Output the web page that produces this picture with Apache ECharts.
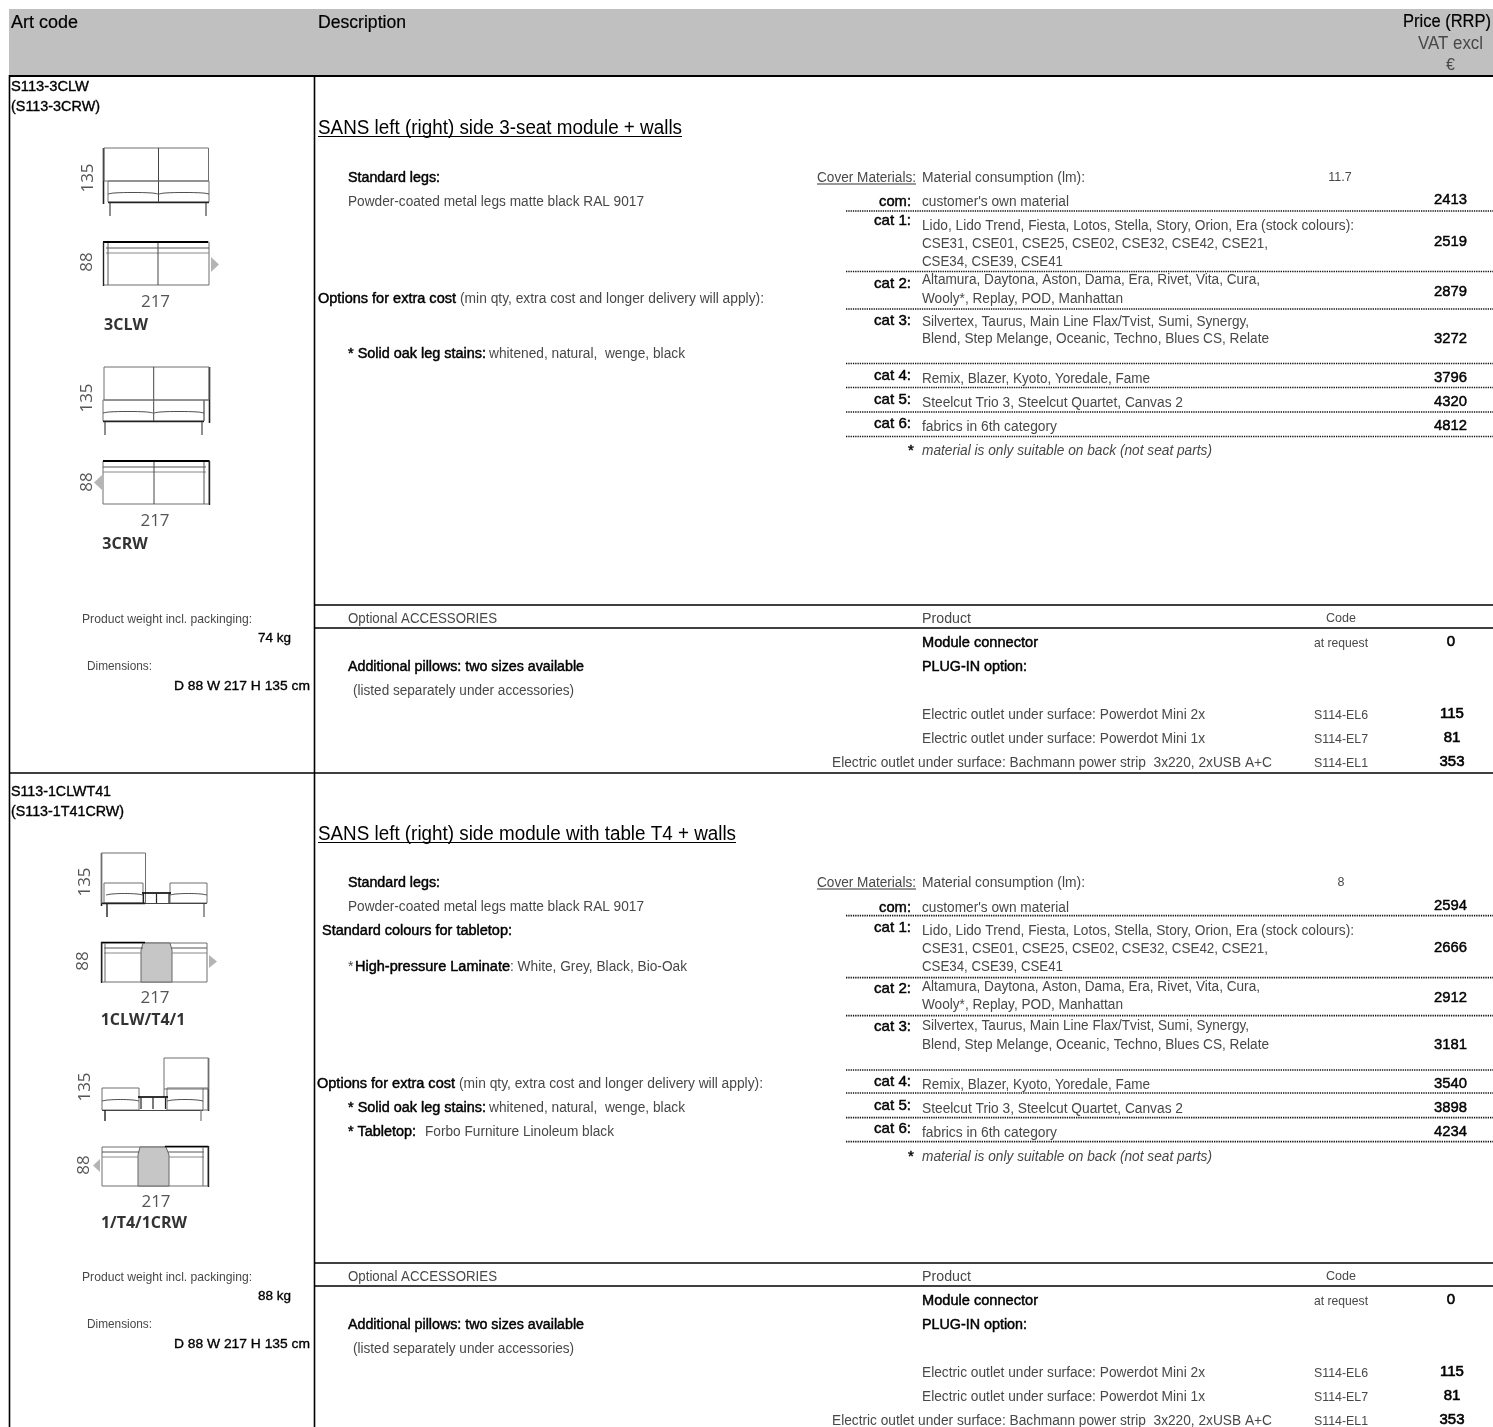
<!DOCTYPE html>
<html><head><meta charset="utf-8">
<style>html,body{margin:0;padding:0;background:#fff}#c{width:1493px;height:1427px}#c canvas{filter:blur(0.3px)}</style>
<script src="https://cdn.jsdelivr.net/npm/echarts@6/dist/echarts.min.js"></script>
</head><body><div id="c"></div>
<script>
// ---- data (text + values) ----
const headerLabels = ['Art code','Description','Price (RRP)','VAT excl','€'];
const artCodes = [['S113-3CLW','(S113-3CRW)'],['S113-1CLWT41','(S113-1T41CRW)']];
const titles = ['SANS left (right) side 3-seat module + walls','SANS left (right) side module with table T4 + walls'];
const consumption = ['11.7','8'];
const weights = ['74 kg','88 kg'];
const dimensions = 'D 88 W 217 H 135 cm';
const catLabels = ['com:','cat 1:','cat 2:','cat 3:','cat 4:','cat 5:','cat 6:'];
const catLines = [["customer's own material"],
 ['Lido, Lido Trend, Fiesta, Lotos, Stella, Story, Orion, Era (stock colours):','CSE31, CSE01, CSE25, CSE02, CSE32, CSE42, CSE21,','CSE34, CSE39, CSE41'],
 ['Altamura, Daytona, Aston, Dama, Era, Rivet, Vita, Cura,','Wooly*, Replay, POD, Manhattan'],
 ['Silvertex, Taurus, Main Line Flax/Tvist, Sumi, Synergy,','Blend, Step Melange, Oceanic, Techno, Blues CS, Relate'],
 ['Remix, Blazer, Kyoto, Yoredale, Fame'],['Steelcut Trio 3, Steelcut Quartet, Canvas 2'],['fabrics in 6th category']];
const prices1 = [2413,2519,2879,3272,3796,4320,4812];
const prices2 = [2594,2666,2912,3181,3540,3898,4234];
const accessoryCodes = ['S114-EL6','S114-EL7','S114-EL1'];
const accessoryNames = ['Electric outlet under surface: Powerdot Mini 2x','Electric outlet under surface: Powerdot Mini 1x','Electric outlet under surface: Bachmann power strip  3x220, 2xUSB A+C'];
const accessoryPrices = [115,81,353];
const connectorPrice = 0;
const sofaNames = ['3CLW','3CRW','1CLW/T4/1','1/T4/1CRW'];
const sofaDims = ['135','88','217'];

// ---- layout ----
const FONT = '"Liberation Sans", Arial, sans-serif', DIM = '"Open Sans", sans-serif';
const GREY = '#484848', BLK = '#000';
const items = [];
const mc = document.createElement('canvas').getContext('2d');
function T(text, x, y, o) {
  o = o || {};
  const s = o.s || 14, font = (o.i ? 'italic ' : '') + s + 'px ' + (o.f || FONT);
  let sx = 1;
  if (o.w) { mc.font = font; sx = o.w / mc.measureText(String(text)).width; }
  const yy = y + (o.f ? 0 : 1);
  items.push({k:'t', text:String(text), x, y:yy, a:o.a||'left', font, fill:o.c||(o.b?BLK:GREY), stroke:o.b?BLK:null, lw:o.b?(o.bw||0.45):0, sx, rot:o.rot||0, weight:o.fw});
}
function L(x1,y1,x2,y2,c,w,d){ items.push({k:'l',x1,y1,x2,y2,c:c||BLK,w:w||1,d}); }
function R(x,y,w,h,f,st,lw){ items.push({k:'r',x,y,w_:w,h,f,st,lw}); }
function P(pts,f,st,lw,smooth,closed){ items.push({k:'p',pts,f,st,lw,smooth,closed}); }

const GL = '#6e6e6e', DK = '#222';
function dimsLabels(x135,y135,x88,y88,x217,y217){
  T(sofaDims[0],x135,y135,{a:'center',s:17,f:DIM,c:'#555',rot:Math.PI/2});
  T(sofaDims[1],x88,y88,{a:'center',s:17,f:DIM,c:'#555',rot:Math.PI/2});
  T(sofaDims[2],x217,y217,{a:'center',s:17,f:DIM,c:'#555'});
}
function cushion(x1,x2,y){ P([[x1,y+1],[x1+6,y],[(x1+x2)/2,y-0.5],[x2-6,y],[x2,y+1]],null,DK,0.8,0.4); }

function sofa3CLW(){
  L(103.5,148,103.5,204,DK,1.6);
  R(104,148,104.5,33,null,GL,1);
  L(158.5,148,158.5,202,'#444',1);
  R(108,181,101,21,null,GL,1);
  cushion(108,158,193); cushion(159,209,193);
  L(108,202.5,209,202.5,DK,1.3);
  L(110,203,110,216,'#444',1.2); L(206,203,206,216,'#444',1.2);
  R(103.5,242,105.5,43,null,GL,1);
  L(103,242,208,242,BLK,1.8); L(103.5,242,103.5,286,DK,1.4);
  L(106,248,209,248,'#555',1); L(106,253,209,253,'#888',1);
  L(108,243,108,285,'#555',1); L(158,243,158,285,'#444',1);
  P([[211,257],[219,264.5],[211,272]],'#b4b4b4');
  dimsLabels(88,178,87,262,155.5,302);
  T(sofaNames[0],126,325,{a:'center',s:16,f:DIM,c:'#333',fw:700});
}
function sofa3CRW(){
  L(209.5,367,209.5,423,DK,1.6);
  R(104,367,105,33,null,GL,1);
  L(153.7,367,153.7,421,'#444',1);
  R(103,400,101,21,null,GL,1); L(204,400,204,421,GL,1); L(204,400,209,400,GL,1);
  cushion(103,153,412); cushion(154,204,412);
  L(103,421.5,204,421.5,DK,1.3);
  L(105,422,105,435,'#444',1.2); L(202,422,202,435,'#444',1.2);
  R(103,461,106,43,null,GL,1);
  L(103,461,209.5,461,BLK,1.8); L(209.5,461,209.5,505,DK,1.4);
  L(103,467,206,467,'#555',1); L(103,472,206,472,'#888',1);
  L(204,462,204,504,'#555',1); L(154,462,154,504,'#444',1);
  P([[102,475],[94,482.5],[102,490]],'#b4b4b4');
  dimsLabels(87,398,87,482,155,521);
  T(sofaNames[1],125,544,{a:'center',s:16,f:DIM,c:'#333',fw:700});
}
function sofa1CLW(){
  L(101.5,853,101.5,906,DK,1.5);
  R(101.5,853,44,50,null,GL,1);
  R(104,883,39,20,null,GL,1); R(170,883,37,20,null,GL,1);
  cushion(106,143,894); cushion(170,207,894);
  L(102,903.5,145,903.5,DK,1.5); L(145,903.5,207,903.5,'#444',1);
  L(142,893,171,893,BLK,1.6);
  L(143.5,893,143.5,903,DK,1.2); L(156.5,893,156.5,903,DK,1.2); L(169,893,169,903,DK,1.2);
  L(107,904,107,917,DK,1.4); L(204,904,204,917,'#555',1.2);
  R(102,943,105,39,null,GL,1);
  P([[143,943],[170,943],[172,950],[172,982],[141,982],[141,950]],'#c6c6c6','#666',1,0,true);
  L(101,942.5,145,942.5,BLK,1.6); L(101.5,942,101.5,983,DK,1.4);
  L(104,948,143,948,'#555',1); L(104,953,141,953,'#888',1); L(171,948,207,948,'#555',1); L(172,953,207,953,'#888',1);
  L(105,943,105,982,'#666',1);
  P([[209,955],[217,961.5],[209,968]],'#b4b4b4');
  dimsLabels(85,882,83,961,155,998);
  T(sofaNames[2],143,1020,{a:'center',s:16,f:DIM,c:'#333',fw:700});
}
function sofa1CRW(){
  L(208.5,1058,208.5,1111,DK,1.5);
  R(164,1058,44.5,31,null,GL,1); L(164,1089,164,1097,GL,1);
  R(102,1088,37,22,null,GL,1); R(167,1088,41,22,null,GL,1); L(203,1088,203,1110,GL,1);
  cushion(102,139,1100); cushion(167,203,1100);
  L(102,1110.5,203,1110.5,'#444',1.1);
  L(138,1097,168,1097,BLK,1.6);
  L(141,1097,141,1109,DK,1.2); L(153,1097,153,1109,DK,1.2); L(165.5,1097,165.5,1109,DK,1.2);
  L(105,1110,105,1121,DK,1.4); L(201,1110,201,1121,'#777',1.2);
  R(102,1147,106,39,null,GL,1);
  P([[140,1147],[166,1147],[169,1155],[169,1186],[138,1186],[138,1155]],'#c6c6c6','#666',1,0,true);
  L(165,1146.5,208.5,1146.5,BLK,1.6); L(208.5,1146,208.5,1187,DK,1.4);
  L(102,1152,139,1152,'#555',1); L(102,1157,138,1157,'#888',1); L(168,1152,204,1152,'#555',1); L(169,1157,204,1157,'#888',1);
  L(203,1147,203,1186,'#666',1);
  P([[100,1159],[93,1165.5],[100,1172]],'#b4b4b4');
  dimsLabels(85,1087,84,1165,156,1202);
  T(sofaNames[3],144,1223,{a:'center',s:16,f:DIM,c:'#333',fw:700});
}

// frame
R(9,9,1484,66,'#c0c0c0');
L(9,76,1493,76,BLK,2);
L(9.5,75,9.5,1427,BLK,1.6);
L(314.5,75,314.5,1427,BLK,1.6);
L(9,773,1493,773,BLK,1.6);
// header
T(headerLabels[0],11,22,{s:18,c:BLK,bw:0.2,b:1,w:67});
T(headerLabels[1],318,22,{s:18,c:BLK,bw:0.2,b:1,w:88});
T(headerLabels[2],1491,21,{s:18,c:BLK,bw:0.2,b:1,a:'right',w:88});
T(headerLabels[3],1450.5,43,{s:18,a:'center',w:65});
T(headerLabels[4],1450.5,65,{s:16,a:'center'});

const lineW = [[147],[432,346,141],[338,201],[327,347],[228],[261],[135]];
const labelY = [[201,220,283,320,375,399,423],[907,927,988,1026,1081,1105,1128]];
const lineY = [[[201],[225,243,261],[279,298],[321,338],[378],[402],[426]],
               [[907],[930,948,966],[986,1004],[1025,1044],[1084],[1108],[1132]]];
const priceY = [[199,241,291,338,377,401,425],[905,947,997,1044,1083,1107,1131]];
const dotY = [[211,271.5,309,363.5,387.5,412,436.5],[915.7,977.7,1015.7,1070,1093,1117.7,1141.7]];

function section(i, dy, prices){
  const Y = v => v + dy;
  const top = i ? 882 : 177, second = i ? 906 : 201;
  T(artCodes[i][0],11,i?791:86,{b:1,bw:0.35,w:i?100:78});
  T(artCodes[i][1],11,i?811:106,{b:1,bw:0.35,w:i?113:89});
  T(titles[i],318,Y(127),{s:20,c:BLK,w:i?418:364});
  L(318,Y(136.5),i?736:682,Y(136.5),BLK,1);
  T('Standard legs:',348,top,{b:1,w:92});
  T('Powder-coated metal legs matte black RAL 9017',348,second,{w:296});
  T('Cover Materials:',817,top,{w:99});
  L(817,top+7,916,top+7,'#333',1);
  T('Material consumption (lm):',922,top,{w:163});
  T(consumption[i],i?1341:1340,top,{a:'center',s:12.5});
  catLabels.forEach((c,k)=>{
    T(c,911,labelY[i][k],{a:'right',b:1,s:15,w:k?37:32});
    catLines[k].forEach((ln,m)=>T(ln,922,lineY[i][k][m],{w:lineW[k][m]}));
    T(prices[k],1467,priceY[i][k],{a:'right',b:1,s:15,w:33});
    L(846,dotY[i][k],1493,dotY[i][k],'#111',1.7,[1.3,1]);
  });
  T('*',911,Y(450),{a:'center',b:1,s:15});
  T('material is only suitable on back (not seat parts)',922,Y(450),{i:1,w:290});
}
section(0,0,prices1);
section(1,706,prices2);

// description blocks
T('Options for extra cost',318,298,{b:1,w:138});
T('(min qty, extra cost and longer delivery will apply):',460,298,{w:304});
T('* Solid oak leg stains:',348,353,{b:1,w:138});
T('whitened, natural,  wenge, black',489,353,{w:196});

T('Standard colours for tabletop:',322,930,{b:1,w:190});
T('*',348,966,{});
T('High-pressure Laminate',355,966,{b:1,w:155});
T(': White, Grey, Black, Bio-Oak',510,966,{w:177});
T('Options for extra cost',317,1083,{b:1,w:138});
T('(min qty, extra cost and longer delivery will apply):',459,1083,{w:304});
T('* Solid oak leg stains:',348,1107,{b:1,w:138});
T('whitened, natural,  wenge, black',489,1107,{w:196});
T('* Tabletop:',348,1131,{b:1,w:68});
T('Forbo Furniture Linoleum black',425,1131,{w:189});

function accessories(i, dy, wy){
  const Y=v=>v+dy;
  L(314,Y(605),1493,Y(605),BLK,1.5);
  L(314,Y(628),1493,Y(628),BLK,1.5);
  T('Product weight incl. packinging:',82,wy,{s:13,w:170});
  T(weights[i],291,wy+19,{a:'right',b:1,s:13.5,bw:0.35,w:33});
  T('Dimensions:',87,wy+47,{s:13,w:65});
  T(dimensions,310,wy+67,{a:'right',b:1,s:13.5,bw:0.35,w:136});
  T('Optional ACCESSORIES',348,Y(618),{w:149});
  T('Product',922,Y(618),{w:49});
  T('Code',1341,Y(618),{a:'center',s:12.5,w:30});
  T('Module connector',922,Y(642),{b:1,w:116});
  T('at request',1341,Y(642),{a:'center',s:13,w:54});
  T(connectorPrice,1451,Y(641),{a:'center',b:1,s:15,bw:0.6});
  T('Additional pillows: two sizes available',348,Y(666),{b:1,w:236});
  T('PLUG-IN option:',922,Y(666),{b:1,w:105});
  T('(listed separately under accessories)',353,Y(690),{w:221});
  const ys=[714,738,762];
  accessoryNames.forEach((n,k)=>{
    if(k<2) T(n,922,Y(ys[k]),{w:283}); else T(n,1272,Y(ys[k]),{a:'right',w:440});
    T(accessoryCodes[k],1341,Y(ys[k]),{a:'center',s:13,w:54});
    T(accessoryPrices[k],1452,Y(ys[k]-1),{a:'center',b:1,s:15,bw:0.6});
  });
}
accessories(0,0,618);
accessories(1,658,1276);

sofa3CLW(); sofa3CRW(); sofa1CLW(); sofa1CRW();

// ---- chart ----
const chart = echarts.init(document.getElementById('c'),null,{renderer:'canvas'});
function renderItem(params, api){
  const it = items[api.value(0)];
  const C = (x,y)=>api.coord([x,y]);
  if(it.k==='t'){
    const p=C(it.x,it.y);
    const st={text:it.text,x:0,y:0,font:(it.weight?it.weight+' ':'')+it.font,fill:it.fill,align:it.a,verticalAlign:'middle'};
    if(it.stroke){st.stroke=it.stroke;st.lineWidth=it.lw;}
    return {type:'text',x:p[0],y:p[1],scaleX:it.sx,rotation:it.rot,style:st,silent:true};
  }
  if(it.k==='l'){
    const a=C(it.x1,it.y1),b=C(it.x2,it.y2);
    return {type:'line',shape:{x1:a[0],y1:a[1],x2:b[0],y2:b[1]},style:{stroke:it.c,lineWidth:it.w,lineDash:it.d||null},silent:true};
  }
  if(it.k==='r'){
    const a=C(it.x,it.y),b=C(it.x+it.w_,it.y+it.h);
    return {type:'rect',shape:{x:a[0],y:a[1],width:b[0]-a[0],height:b[1]-a[1]},style:{fill:it.f||'none',stroke:it.st||null,lineWidth:it.lw||0},silent:true};
  }
  const pts=it.pts.map(q=>C(q[0],q[1]));
  const closed=it.closed||(it.f&&!it.st);
  return {type:closed?'polygon':'polyline',shape:{points:pts,smooth:it.smooth||0},style:{fill:it.f||'none',stroke:it.st||null,lineWidth:it.lw||0},silent:true};
}
chart.setOption({
  animation:false,
  grid:{left:0,right:0,top:0,bottom:0},
  xAxis:{type:'value',min:0,max:1493,show:false},
  yAxis:{type:'value',min:0,max:1427,inverse:true,show:false},
  series:[{type:'custom',coordinateSystem:'cartesian2d',clip:false,silent:true,
    encode:{x:0,y:1},data:items.map((_,i)=>[i,0]),renderItem}]
});
</script></body></html>
